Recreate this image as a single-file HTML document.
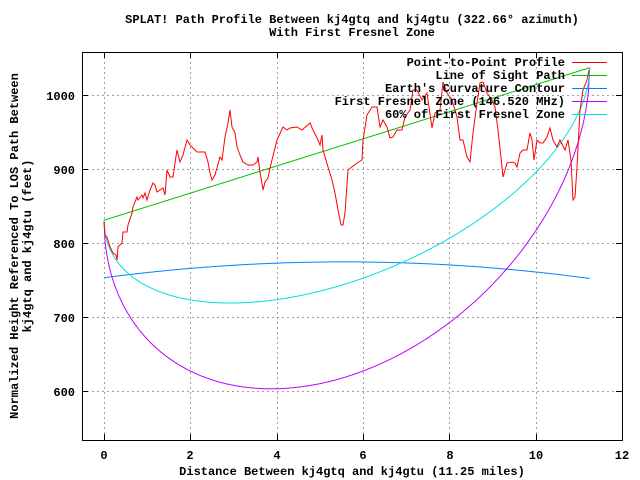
<!DOCTYPE html>
<html><head><meta charset="utf-8"><style>
html,body{margin:0;padding:0;background:#fff;}
svg{display:block;}
text{font-family:"Liberation Mono",monospace;font-size:12px;font-weight:bold;fill:#000;}
</style></head><body>
<svg id="s" width="640" height="480" xmlns="http://www.w3.org/2000/svg">
<rect width="640" height="480" fill="#fff"/>
<g stroke="#a0a0a0" stroke-width="1" stroke-dasharray="2,3" fill="none">
<path d="M104.5 52V440M190.5 52V440M277.5 52V440M363.5 52V440M449.5 52V440M536.5 52V440"/>
<path d="M82 95.5H622M82 169.5H622M82 243.5H622M82 317.5H622M82 391.5H622"/>
</g>
<g stroke="#000" stroke-width="1" fill="none">
<rect x="82.5" y="52.5" width="540" height="388"/>
<path d="M104.5 440v-6M190.5 440v-6M277.5 440v-6M363.5 440v-6M449.5 440v-6M536.5 440v-6M104.5 52v6M190.5 52v6M277.5 52v6M363.5 52v6M449.5 52v6M536.5 52v6"/>
<path d="M82 95.5h6M82 169.5h6M82 243.5h6M82 317.5h6M82 391.5h6M622 95.5h-6M622 169.5h-6M622 243.5h-6M622 317.5h-6M622 391.5h-6"/>
</g>
<g text-anchor="middle">
<text x="352" y="23">SPLAT! Path Profile Between kj4gtq and kj4gtu (322.66° azimuth)</text>
<text x="352" y="36">With First Fresnel Zone</text>
<text x="104" y="459">0</text><text x="190" y="459">2</text><text x="277" y="459">4</text><text x="363" y="459">6</text><text x="450" y="459">8</text><text x="536" y="459">10</text><text x="622" y="459">12</text>
<text x="352" y="475">Distance Between kj4gtq and kj4gtu (11.25 miles)</text>
<text transform="translate(18,246) rotate(-90)">Normalized Height Referenced To LOS Path Between</text>
<text transform="translate(31,246) rotate(-90)">kj4gtq and kj4gtu (feet)</text>
</g>
<g text-anchor="end">
<text x="75" y="100">1000</text><text x="75" y="174">900</text><text x="75" y="248">800</text><text x="75" y="322">700</text><text x="75" y="396">600</text>
</g>
<g id="curves" fill="none" stroke-width="1"></g>
<g fill="none" stroke-width="1">
<polyline stroke="#ff0000" points="104,222 105,235 107,237 110,247 113,253 116,255 117,260 118,247 122,243 123,232 127,232 128,225 132,213 133,207 137,197 138,200 142,195 143,198 145,193 147,200 150,190 153,183 155,185 157,192 160,190 163,188 165,195 167,170 170,177 173,177 175,163 177,150 180,162 183,155 187,140 190,145 193,148 197,152 205,152 208,162 210,173 212,180 215,175 220,157 222,160 225,137 228,123 230,110 232,127 235,133 237,147 240,155 243,162 248,165 253,165 257,162 258,157 260,172 263,190 265,182 268,178 270,168 272,160 277,140 283,127 287,130 290,128 297,127 302,130 310,123 313,130 317,138 320,145 322,135 323,150 328,167 332,180 335,193 338,210 341,225 343,225 345,213 348,170 357,163 362,160 363,140 367,115 372,107 377,107 380,127 383,120 387,127 390,138 393,137 397,130 402,130 405,117 410,110 413,90 417,90 422,100 427,93 432,128 435,113 440,110 443,82 447,93 452,100 457,117 460,140 463,140 467,157 470,162 473,133 477,103 480,83 483,82 487,93 492,100 495,107 498,130 502,167 503,177 507,163 512,162 515,163 517,167 520,153 523,150 527,150 530,133 532,140 534,160 537,140 540,143 543,143 547,137 550,128 553,140 557,147 560,140 565,150 568,140 571,160 573,200 575,197 577,167 580,110 583,90 587,80 589,70"/>
</g>
<g text-anchor="end">
<text x="565" y="66">Point-to-Point Profile</text>
<text x="565" y="79">Line of Sight Path</text>
<text x="565" y="92">Earth's Curvature Contour</text>
<text x="565" y="105">First Fresnel Zone (146.520 MHz)</text>
<text x="565" y="118">60% of First Fresnel Zone</text>
</g>
<g stroke-width="1">
<path d="M572 62.5h35" stroke="#ff0000"/>
<path d="M572 75.5h35" stroke="#00c000"/>
<path d="M572 88.5h35" stroke="#0080ff"/>
<path d="M572 101.5h35" stroke="#c000ff"/>
<path d="M572 114.5h35" stroke="#00e0e0"/>
</g>
</svg>
<script>
(function(){
var X=function(x){return 104+43.17*x;},Y=function(v){return 95.7+(1000-v)*0.737;};
var D=11.25,lam=6.71,f=5280;
var g=document.getElementById('curves');
function pl(fn,col){var p=[];for(var i=0;i<=450;i++){var x=D*i/450;p.push(X(x).toFixed(1)+','+Y(fn(x)).toFixed(1));}
var e=document.createElementNS('http://www.w3.org/2000/svg','polyline');e.setAttribute('points',p.join(' '));e.setAttribute('stroke',col);g.appendChild(e);}
function los(x){return 831+(1038-831)*x/D;}
function r(x){var d1=x*f,d2=(D-x)*f;return Math.sqrt(Math.max(0,lam*d1*d2/(D*f)));}
pl(function(x){var t=x/D;return 753-1*t+22*4*t*(1-t);},'#0080ff');
pl(function(x){return los(x)-r(x);},'#c000ff');
pl(function(x){return los(x)-0.6*r(x);},'#00e0e0');
pl(los,'#00c000');
})();
</script>
</body></html>
